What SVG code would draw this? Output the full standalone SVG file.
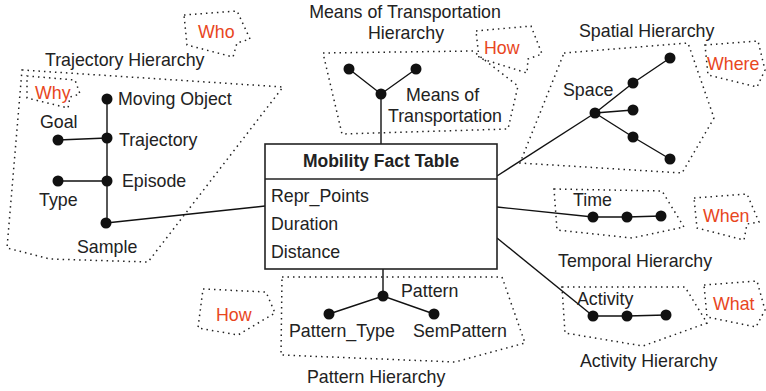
<svg xmlns="http://www.w3.org/2000/svg" width="766" height="391" viewBox="0 0 766 391">
<style>
text{font-family:"Liberation Sans",Arial,sans-serif;font-size:17.8px;fill:#222}
.r{fill:#e8461e}
.b{font-weight:bold;font-size:17.5px}
.dot{fill:none;stroke:#222;stroke-width:1.5;stroke-dasharray:1.5 4}
.ln{stroke:#111;stroke-width:1.4;fill:none}
.n{fill:#111}
</style>
<rect width="766" height="391" fill="#fff"/>
<g id="connectors">
<path class="ln" d="M106 223 L265 206"/>
<path class="ln" d="M381 94 L381 144"/>
<path class="ln" d="M497 176 L595 113"/>
<path class="ln" d="M497 207 L593 217"/>
<path class="ln" d="M497 238 L593 316"/>
<path class="ln" d="M383 269 L383 296"/>
</g>
<g id="fact-table">
<rect x="265" y="144" width="232" height="125" fill="#fff" stroke="#222" stroke-width="1.6"/>
<line x1="265" y1="179" x2="497" y2="179" stroke="#222" stroke-width="1.6"/>
<text class="b" x="381" y="167" text-anchor="middle">Mobility Fact Table</text>
<text x="271" y="202">Repr_Points</text>
<text x="271" y="230">Duration</text>
<text x="271" y="258">Distance</text>
</g>
<g id="trajectory-hierarchy">
<polygon class="dot" points="22,70 283,87 148,262 50,259 7,248"/>
<text x="45" y="66">Trajectory Hierarchy</text>
<path class="ln" d="M107 99 L107 223 M58 140 L107 138 M58 181 L107 181"/>
<circle class="n" cx="107" cy="99" r="5.5"/>
<circle class="n" cx="107" cy="138" r="5.5"/>
<circle class="n" cx="107" cy="181" r="5.5"/>
<circle class="n" cx="106" cy="223" r="5.5"/>
<circle class="n" cx="58" cy="140" r="5.5"/>
<circle class="n" cx="58" cy="181" r="5.5"/>
<text x="118" y="105">Moving Object</text>
<text x="40" y="128">Goal</text>
<text x="119" y="146">Trajectory</text>
<text x="122" y="187">Episode</text>
<text x="39" y="206">Type</text>
<text x="77" y="253">Sample</text>
</g>
<g id="who">
<polygon class="dot" points="184,15 237,11 250,39 237,43 233,57 187,45"/>
<text class="r" x="198" y="38">Who</text>
</g>
<g id="why">
<polygon class="dot" points="27,76 75,80 80,94 70,97 68,108 27,98"/>
<text class="r" x="35" y="99">Why</text>
</g>
<g id="means-of-transportation-hierarchy">
<polygon class="dot" points="323,53 473,51 518,86 508,129 342,134"/>
<text x="405" y="18" text-anchor="middle">Means of Transportation</text>
<text x="406" y="39" text-anchor="middle">Hierarchy</text>
<path class="ln" d="M349 69 L381 94 L416 69"/>
<circle class="n" cx="349" cy="69" r="5.5"/>
<circle class="n" cx="416" cy="69" r="5.5"/>
<circle class="n" cx="381" cy="94" r="5.5"/>
<text x="406" y="101">Means of</text>
<text x="388" y="122">Transportation</text>
</g>
<g id="how-top">
<polygon class="dot" points="476,31 531,26 542,54 528,59 527,73 479,58"/>
<text class="r" x="484" y="54">How</text>
</g>
<g id="spatial-hierarchy">
<polygon class="dot" points="564,53 688,43 714,118 682,173 520,163"/>
<text x="579" y="37">Spatial Hierarchy</text>
<path class="ln" d="M595 113 L633 83 L670 58 M595 113 L633 110 M595 113 L633 137 L670 159"/>
<circle class="n" cx="595" cy="113" r="5.5"/>
<circle class="n" cx="633" cy="83" r="5.5"/>
<circle class="n" cx="670" cy="58" r="5.5"/>
<circle class="n" cx="633" cy="110" r="5.5"/>
<circle class="n" cx="633" cy="137" r="5.5"/>
<circle class="n" cx="670" cy="159" r="5.5"/>
<text x="563" y="96">Space</text>
</g>
<g id="where">
<polygon class="dot" points="705,45 758,41 765,70 757,87 708,75"/>
<text class="r" x="707" y="70">Where</text>
</g>
<g id="temporal-hierarchy">
<polygon class="dot" points="554,189 662,191 684,227 632,238 557,230"/>
<text x="573" y="206">Time</text>
<path class="ln" d="M593 217 L627 217 L661 216"/>
<circle class="n" cx="593" cy="217" r="5.5"/>
<circle class="n" cx="627" cy="217" r="5.5"/>
<circle class="n" cx="661" cy="216" r="5.5"/>
<text x="558" y="267">Temporal Hierarchy</text>
</g>
<g id="when">
<polygon class="dot" points="694,198 747,194 759,222 747,224 744,240 697,228"/>
<text class="r" x="703" y="222">When</text>
</g>
<g id="activity-hierarchy">
<polygon class="dot" points="562,287 685,287 707,323 643,346 565,333"/>
<text x="577" y="305">Activity</text>
<path class="ln" d="M593 316 L627 316 L666 315"/>
<circle class="n" cx="593" cy="316" r="5.5"/>
<circle class="n" cx="627" cy="316" r="5.5"/>
<circle class="n" cx="666" cy="315" r="5.5"/>
<text x="580" y="367">Activity Hierarchy</text>
</g>
<g id="what">
<polygon class="dot" points="704,285 757,281 765,310 756,327 707,317"/>
<text class="r" x="713" y="310">What</text>
</g>
<g id="pattern-hierarchy">
<polygon class="dot" points="282,277 502,277 525,343 455,362 281,355"/>
<path class="ln" d="M329 314 L383 296 L434 314"/>
<circle class="n" cx="383" cy="296" r="5.5"/>
<circle class="n" cx="329" cy="314" r="5.5"/>
<circle class="n" cx="434" cy="314" r="5.5"/>
<text x="401" y="297">Pattern</text>
<text x="289" y="337">Pattern_Type</text>
<text x="413" y="337">SemPattern</text>
<text x="307" y="383">Pattern Hierarchy</text>
</g>
<g id="how-bottom">
<polygon class="dot" points="203,289 266,292 275,313 238,335 198,328"/>
<text class="r" x="216" y="321">How</text>
</g>
</svg>
